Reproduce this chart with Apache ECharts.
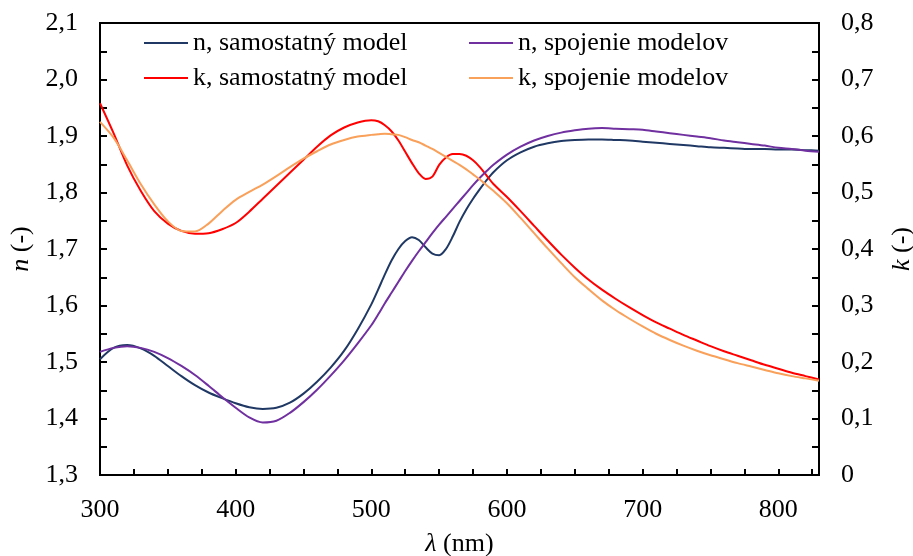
<!DOCTYPE html>
<html>
<head>
<meta charset="utf-8">
<script src="https://cdn.jsdelivr.net/npm/echarts@6/dist/echarts.min.js"></script>
<style>
  html, body { margin: 0; padding: 0; background: #fff; }
  #chart { width: 913px; height: 556px; }
</style>
</head>
<body>
<div id="chart"></div>
<script>
// vlnová dĺžka (nm)
const wavelength = [
  300, 310, 320, 330, 340, 350, 360, 370, 380, 390, 400, 410, 420, 430, 440, 450, 460, 470, 480, 490, 500,
  505, 510, 515, 520, 525, 530, 535, 540, 545, 550, 555, 560, 565, 570, 575, 580, 585, 590,
  600, 610, 620, 630, 640, 650, 660, 670, 680, 690, 700, 710, 720, 730, 740, 750, 760, 770, 780, 790, 800, 810, 820, 830
];

// n, samostatný model
const nSingle = [
  1.505, 1.525, 1.530, 1.524, 1.511, 1.493, 1.475, 1.459, 1.446, 1.436, 1.427, 1.420, 1.417, 1.419, 1.428, 1.444, 1.465, 1.490, 1.520, 1.558, 1.602,
  1.628, 1.655, 1.680, 1.700, 1.714, 1.721, 1.716, 1.703, 1.692, 1.689, 1.700, 1.722, 1.748, 1.770, 1.789, 1.806, 1.822, 1.836,
  1.857, 1.871, 1.881, 1.887, 1.891, 1.893, 1.894, 1.894, 1.893, 1.892, 1.890, 1.888, 1.886, 1.884, 1.882, 1.880, 1.879, 1.878, 1.877, 1.877, 1.876, 1.876, 1.875, 1.874
];

// n, spojenie modelov
const nJoined = [
  1.518, 1.525, 1.528, 1.525, 1.518, 1.507, 1.493, 1.477, 1.458, 1.438, 1.419, 1.402, 1.393, 1.396, 1.410, 1.429, 1.451, 1.476, 1.503, 1.533, 1.565,
  1.584, 1.604, 1.623, 1.642, 1.661, 1.679, 1.696, 1.712, 1.728, 1.743, 1.757, 1.771, 1.785, 1.799, 1.813, 1.826, 1.838, 1.849,
  1.867, 1.881, 1.892, 1.900, 1.906, 1.910, 1.913, 1.914, 1.913, 1.912, 1.911, 1.908, 1.905, 1.902, 1.899, 1.896, 1.892, 1.889, 1.886, 1.883, 1.879, 1.877, 1.874, 1.872
];

// k, samostatný model
const kSingle = [
  0.658, 0.605, 0.548, 0.503, 0.467, 0.445, 0.432, 0.427, 0.428, 0.435, 0.446, 0.466, 0.489, 0.512, 0.535, 0.558, 0.581, 0.601, 0.615, 0.624, 0.628,
  0.626, 0.619, 0.608, 0.592, 0.572, 0.552, 0.534, 0.524, 0.528, 0.549, 0.562, 0.568, 0.568, 0.565, 0.557, 0.545, 0.530, 0.515,
  0.492, 0.467, 0.441, 0.415, 0.390, 0.367, 0.346, 0.328, 0.312, 0.297, 0.283, 0.270, 0.259, 0.248, 0.238, 0.228, 0.219, 0.211, 0.203, 0.195, 0.188, 0.181, 0.175, 0.169
];

// k, spojenie modelov
const kJoined = [
  0.625, 0.597, 0.557, 0.515, 0.479, 0.449, 0.432, 0.431, 0.445, 0.467, 0.487, 0.501, 0.514, 0.529, 0.545, 0.560, 0.573, 0.585, 0.593, 0.599, 0.602,
  0.603, 0.604, 0.603, 0.602, 0.598, 0.593, 0.589, 0.583, 0.577, 0.570, 0.563, 0.556, 0.549, 0.541, 0.532, 0.523, 0.513, 0.503,
  0.481, 0.455, 0.428, 0.401, 0.375, 0.350, 0.329, 0.309, 0.292, 0.277, 0.263, 0.250, 0.239, 0.229, 0.220, 0.212, 0.205, 0.198, 0.192, 0.186, 0.180, 0.175, 0.171, 0.167
];

const xTicks = [];
for (let v = 300; v <= 825; v += 25) xTicks.push(v);
const xLabels = [300, 400, 500, 600, 700, 800];

const font = "'Liberation Serif', 'Times New Roman', serif";
const fontSize = 26;

function pairs(vals) {
  return wavelength.map((w, i) => [w, vals[i]]);
}

function comma(v) {
  if (Math.abs(v) < 1e-9) return "0";
  return v.toFixed(1).replace(".", ",");
}

const chart = echarts.init(document.getElementById("chart"));

const nameStyle = {
  fontFamily: font,
  fontSize: fontSize,
  color: "#000",
  rich: { i: { fontFamily: font, fontSize: fontSize, fontStyle: "italic", color: "#000" } },
};

const yAxisCommon = {
  type: "value",
  interval: 0.1,
  nameLocation: "middle",
  nameRotate: 90,
  nameTextStyle: nameStyle,
  axisLine: { show: true, lineStyle: { color: "#000", width: 2 } },
  axisTick: { show: true, inside: true, length: 7, lineStyle: { color: "#000", width: 2 } },
  minorTick: { show: true, splitNumber: 2, length: 7, lineStyle: { color: "#000", width: 2 } },
  splitLine: { show: false },
  axisLabel: { fontFamily: font, fontSize: fontSize, color: "#000", margin: 22, formatter: comma },
};

const lineCommon = { type: "line", smooth: 0.3, symbol: "none", z: 3 };

const legendCommon = {
  orient: "vertical",
  top: 25,
  icon: "rect",
  itemWidth: 44, itemHeight: 2, itemGap: 9,
  textStyle: { fontFamily: font, fontSize: fontSize, color: "#000", lineHeight: 26 },
};

chart.setOption({
  animation: false,
  backgroundColor: "#fff",
  grid: {
    left: 100, right: 94, top: 23, bottom: 81,
    outerBoundsMode: "none",
    show: true, borderColor: "#000", borderWidth: 2,
  },
  legend: [
    Object.assign({}, legendCommon, {
      data: ["n, samostatný model", "k, samostatný model"],
      left: 139,
    }),
    Object.assign({}, legendCommon, {
      data: ["n, spojenie modelov", "k, spojenie modelov"],
      left: 464,
    }),
  ],
  xAxis: {
    type: "value",
    min: 300,
    max: 830,
    interval: 100,
    name: "{i|λ} (nm)",
    nameLocation: "middle",
    nameGap: 56,
    nameTextStyle: nameStyle,
    axisLine: { lineStyle: { color: "#000", width: 2 } },
    axisTick: { show: true, inside: true, length: 6, customValues: xTicks, lineStyle: { color: "#000", width: 2 } },
    splitLine: { show: false },
    axisLabel: {
      customValues: xLabels,
      fontFamily: font, fontSize: fontSize, color: "#000", margin: 22,
    },
  },
  yAxis: [
    Object.assign({}, yAxisCommon, {
      position: "left",
      min: 1.3, max: 2.1,
      name: "{i|n} (-)",
      nameGap: 60,
    }),
    Object.assign({}, yAxisCommon, {
      position: "right",
      min: 0, max: 0.8,
      name: "{i|k} (-)",
      nameGap: 70,
    }),
  ],
  series: [
    Object.assign({}, lineCommon, {
      name: "n, samostatný model", yAxisIndex: 0, data: pairs(nSingle),
      color: "#1f3864", lineStyle: { width: 2, color: "#1f3864" },
    }),
    Object.assign({}, lineCommon, {
      name: "k, samostatný model", yAxisIndex: 1, data: pairs(kSingle),
      color: "#ff0000", lineStyle: { width: 2, color: "#ff0000" },
    }),
    Object.assign({}, lineCommon, {
      name: "n, spojenie modelov", yAxisIndex: 0, data: pairs(nJoined),
      color: "#7030a0", lineStyle: { width: 2, color: "#7030a0" },
    }),
    Object.assign({}, lineCommon, {
      name: "k, spojenie modelov", yAxisIndex: 1, data: pairs(kJoined),
      color: "#f9a05a", lineStyle: { width: 2, color: "#f9a05a" },
    }),
  ],
});
</script>
</body>
</html>
